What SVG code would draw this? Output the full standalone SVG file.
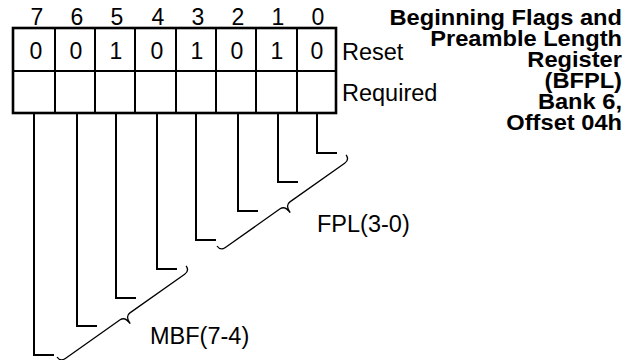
<svg xmlns="http://www.w3.org/2000/svg" width="638" height="360" viewBox="0 0 638 360">
<style>
  text { font-family: "Liberation Sans", Arial, sans-serif; fill: #000; }
  .d { font-size: 23px; text-anchor: middle; }
  .lbl { font-size: 23.5px; }
  .title { font-size: 21.5px; font-weight: bold; text-anchor: end; }
  .frame { fill: none; stroke: #000; stroke-width: 2.6; }
  .cell { fill: none; stroke: #000; stroke-width: 2; }
  .conn { fill: none; stroke: #000; stroke-width: 2; }
  .brace { fill: none; stroke: #000; stroke-width: 1.3; }
</style>
<defs>
  <path id="br" d="M0,0 Q0,6 6,6 L73,6 Q79,6 79,15 Q79,6 85,6 L152,6 Q158,6 158,0"/>
</defs>
<rect width="638" height="360" fill="#fff"/>
<g id="register">
  <line class="cell" x1="13" y1="71" x2="336" y2="71"/>
  <line class="cell" x1="55" y1="28" x2="55" y2="113"/>
  <line class="cell" x1="95" y1="28" x2="95" y2="113"/>
  <line class="cell" x1="135" y1="28" x2="135" y2="113"/>
  <line class="cell" x1="176" y1="28" x2="176" y2="113"/>
  <line class="cell" x1="216" y1="28" x2="216" y2="113"/>
  <line class="cell" x1="256" y1="28" x2="256" y2="113"/>
  <line class="cell" x1="297" y1="28" x2="297" y2="113"/>
  <rect class="frame" x="13" y="28" width="323" height="85"/>
  <text class="d" x="37" y="24.5">7</text>
  <text class="d" x="77" y="24.5">6</text>
  <text class="d" x="117" y="24.5">5</text>
  <text class="d" x="158" y="24.5">4</text>
  <text class="d" x="198" y="24.5">3</text>
  <text class="d" x="238" y="24.5">2</text>
  <text class="d" x="278" y="24.5">1</text>
  <text class="d" x="318" y="24.5">0</text>
  <text class="d" x="36" y="58.5">0</text>
  <text class="d" x="76" y="58.5">0</text>
  <text class="d" x="116" y="58.5">1</text>
  <text class="d" x="157" y="58.5">0</text>
  <text class="d" x="197" y="58.5">1</text>
  <text class="d" x="237" y="58.5">0</text>
  <text class="d" x="277" y="58.5">1</text>
  <text class="d" x="317" y="58.5">0</text>
  <text class="lbl" x="342" y="60">Reset</text>
  <text class="lbl" x="342" y="101">Required</text>
</g>
<g id="title" transform="matrix(1.1,0,0,1,-62.2,0)">
  <text class="title" x="622" y="25.5">Beginning Flags and</text>
  <text class="title" x="622" y="46.5">Preamble Length</text>
  <text class="title" x="622" y="67.5">Register</text>
  <text class="title" x="622" y="88.5">(BFPL)</text>
  <text class="title" x="622" y="109.5">Bank 6,</text>
  <text class="title" x="622" y="130.5">Offset 04h</text>
</g>
<g id="connectors">
  <polyline class="conn" points="317,113 317,153 337,153"/>
  <polyline class="conn" points="278,113 278,182 298,182"/>
  <polyline class="conn" points="238,113 238,211 258,211"/>
  <polyline class="conn" points="196,113 196,240 216,240"/>
  <polyline class="conn" points="157,113 157,269 177,269"/>
  <polyline class="conn" points="116,113 116,298 136,298"/>
  <polyline class="conn" points="77,113 77,326 97,326"/>
  <polyline class="conn" points="34,113 34,355 54,355"/>
</g>
<g id="fpl">
  <use href="#br" class="brace" transform="translate(217,246) rotate(-35.2)"/>
  <text class="lbl" x="317" y="232">FPL(3-0)</text>
</g>
<g id="mbf">
  <use href="#br" class="brace" transform="translate(57,357) rotate(-35.2)"/>
  <text class="lbl" x="150" y="344">MBF(7-4)</text>
</g>
</svg>
